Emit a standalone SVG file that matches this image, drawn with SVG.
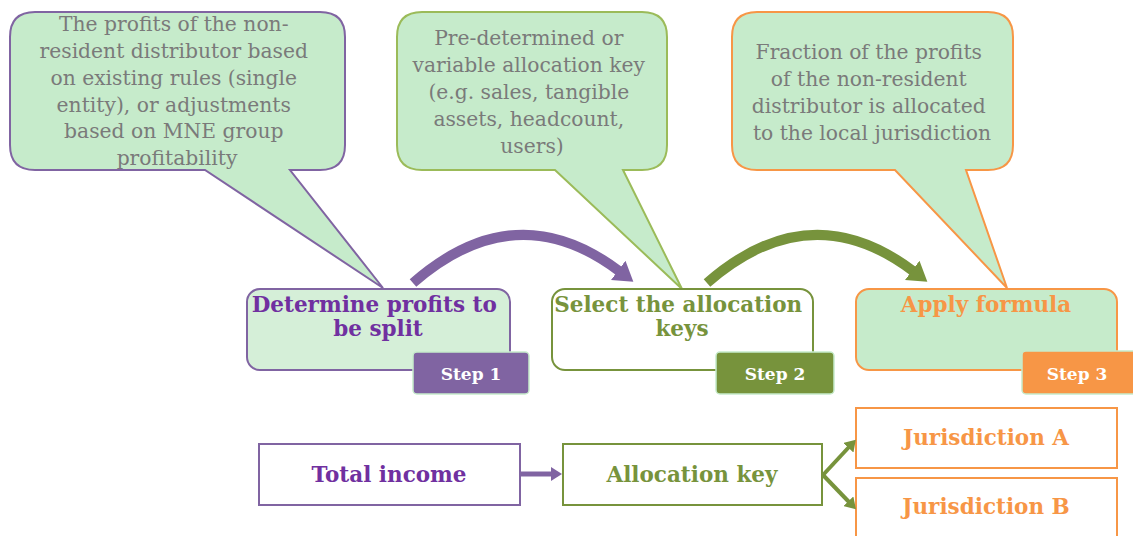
<svg xmlns="http://www.w3.org/2000/svg" width="1133" height="536" viewBox="0 0 1133 536">
  <style>
    .note { fill: #C6EBCB; stroke-width: 2; }
    .note-text { font-family: "DejaVu Serif", "Liberation Serif", serif; font-size: 20.3px; fill: #7A7A7A; text-anchor: middle; }
    .title { font-family: "DejaVu Serif", "Liberation Serif", serif; font-size: 21.5px; font-weight: bold; text-anchor: middle; }
    .badge-text { font-family: "DejaVu Serif", "Liberation Serif", serif; font-size: 17px; font-weight: bold; fill: #FFFFFF; text-anchor: middle; }
    .badge { stroke: #C6EBCB; stroke-width: 1.5; }
    .flow { fill: #FFFFFF; stroke-width: 2; }
    .flow-text { font-family: "DejaVu Serif", "Liberation Serif", serif; font-size: 21.5px; font-weight: bold; text-anchor: middle; }
  </style>
  <defs>
    <marker id="headPurple" markerUnits="userSpaceOnUse" viewBox="0 0 20 26" markerWidth="20" markerHeight="26" refX="1" refY="13" orient="auto">
      <path d="M0,1 L19,13 L0,25 Z" fill="#8064A2"/>
    </marker>
    <marker id="headGreen" markerUnits="userSpaceOnUse" viewBox="0 0 20 26" markerWidth="20" markerHeight="26" refX="1" refY="13" orient="auto">
      <path d="M0,1 L19,13 L0,25 Z" fill="#77933C"/>
    </marker>
    <marker id="smallPurple" markerUnits="userSpaceOnUse" viewBox="0 0 12 14" markerWidth="12" markerHeight="14" refX="1" refY="7" orient="auto">
      <path d="M0,0 L11,7 L0,14 Z" fill="#8064A2"/>
    </marker>
    <marker id="smallGreen" markerUnits="userSpaceOnUse" viewBox="0 0 12 14" markerWidth="12" markerHeight="14" refX="1" refY="7" orient="auto">
      <path d="M0,0 L11,7 L0,14 Z" fill="#77933C"/>
    </marker>
  </defs>

  <!-- speech-bubble notes above each step -->
  <g id="note-profits">
    <path class="note" stroke="#8064A2" d="M35,12 H320 Q345,12 345,37 V145 Q345,170 320,170 H290 L383,288 L205,170 H35 Q10,170 10,145 V37 Q10,12 35,12 Z"/>
    <text class="note-text">
      <tspan x="177" y="31">The profits of the non-</tspan>
      <tspan x="177" y="58">resident distributor based</tspan>
      <tspan x="177" y="85">on existing rules (single</tspan>
      <tspan x="177" y="112">entity), or adjustments</tspan>
      <tspan x="177" y="138">based on MNE group</tspan>
      <tspan x="177" y="165">profitability</tspan>
    </text>
  </g>
  <g id="note-keys">
    <path class="note" stroke="#9BBB59" d="M422,12 H642 Q667,12 667,37 V145 Q667,170 642,170 H623 L682,289 L555,170 H422 Q397,170 397,145 V37 Q397,12 422,12 Z"/>
    <text class="note-text">
      <tspan x="532" y="45">Pre-determined or</tspan>
      <tspan x="532" y="72">variable allocation key</tspan>
      <tspan x="532" y="99">(e.g. sales, tangible</tspan>
      <tspan x="532" y="126">assets, headcount,</tspan>
      <tspan x="532" y="153">users)</tspan>
    </text>
  </g>
  <g id="note-formula">
    <path class="note" stroke="#F79646" d="M757,12 H988 Q1013,12 1013,37 V145 Q1013,170 988,170 H966 L1007,288 L895,170 H757 Q732,170 732,145 V37 Q732,12 757,12 Z"/>
    <text class="note-text">
      <tspan x="872" y="59">Fraction of the profits</tspan>
      <tspan x="872" y="86">of the non-resident</tspan>
      <tspan x="872" y="113">distributor is allocated</tspan>
      <tspan x="872" y="140">to the local jurisdiction</tspan>
    </text>
  </g>

  <!-- step boxes -->
  <g id="step1">
    <rect x="247" y="289" width="263" height="81" rx="13" fill="#D5EFD8" stroke="#8064A2" stroke-width="2"/>
    <text class="title" fill="#7030A0">
      <tspan x="378" y="312">Determine profits to</tspan>
      <tspan x="378" y="336">be split</tspan>
    </text>
    <rect class="badge" x="413" y="352" width="116" height="42" rx="4" fill="#8064A2"/>
    <text class="badge-text" x="471" y="380">Step 1</text>
  </g>
  <g id="step2">
    <rect x="552" y="289" width="261" height="81" rx="13" fill="#FFFFFF" stroke="#77933C" stroke-width="2"/>
    <text class="title" fill="#77933C">
      <tspan x="682" y="312">Select the allocation</tspan>
      <tspan x="682" y="336">keys</tspan>
    </text>
    <rect class="badge" x="716" y="352" width="118" height="42" rx="4" fill="#77933C"/>
    <text class="badge-text" x="775" y="380">Step 2</text>
  </g>
  <g id="step3">
    <rect x="856" y="289" width="261" height="81" rx="13" fill="#C6EBCB" stroke="#F79646" stroke-width="2"/>
    <text class="title" fill="#F79646" x="986" y="312">Apply formula</text>
    <rect class="badge" x="1022" y="351" width="116" height="43" rx="4" fill="#F79646"/>
    <text class="badge-text" x="1077" y="380">Step 3</text>
  </g>

  <!-- flow row -->
  <g id="total-income">
    <rect class="flow" x="259" y="444" width="261" height="61" stroke="#8064A2"/>
    <text class="flow-text" fill="#7030A0" x="389" y="482">Total income</text>
  </g>
  <g id="allocation-key">
    <rect class="flow" x="563" y="444" width="259" height="61" stroke="#77933C"/>
    <text class="flow-text" fill="#77933C" x="692" y="482">Allocation key</text>
  </g>
  <g id="jurisdiction-a">
    <rect class="flow" x="856" y="408" width="261" height="60" stroke="#F79646"/>
    <text class="flow-text" fill="#F79646" x="986" y="445">Jurisdiction A</text>
  </g>
  <g id="jurisdiction-b">
    <rect class="flow" x="856" y="478" width="261" height="70" stroke="#F79646"/>
    <text class="flow-text" fill="#F79646" x="986" y="514">Jurisdiction B</text>
  </g>

  <!-- connectors -->
  <g id="connectors" fill="none">
    <path d="M413,283 Q516,193 619,271" stroke="#8064A2" stroke-width="10" marker-end="url(#headPurple)"/>
    <path d="M707,283 Q810,193 913,271" stroke="#77933C" stroke-width="10" marker-end="url(#headGreen)"/>
    <path d="M520,474 H552" stroke="#8064A2" stroke-width="5" marker-end="url(#smallPurple)"/>
    <path d="M823,475 L849,447" stroke="#77933C" stroke-width="4" marker-end="url(#smallGreen)"/>
    <path d="M823,475 L849,502" stroke="#77933C" stroke-width="4" marker-end="url(#smallGreen)"/>
  </g>
</svg>
